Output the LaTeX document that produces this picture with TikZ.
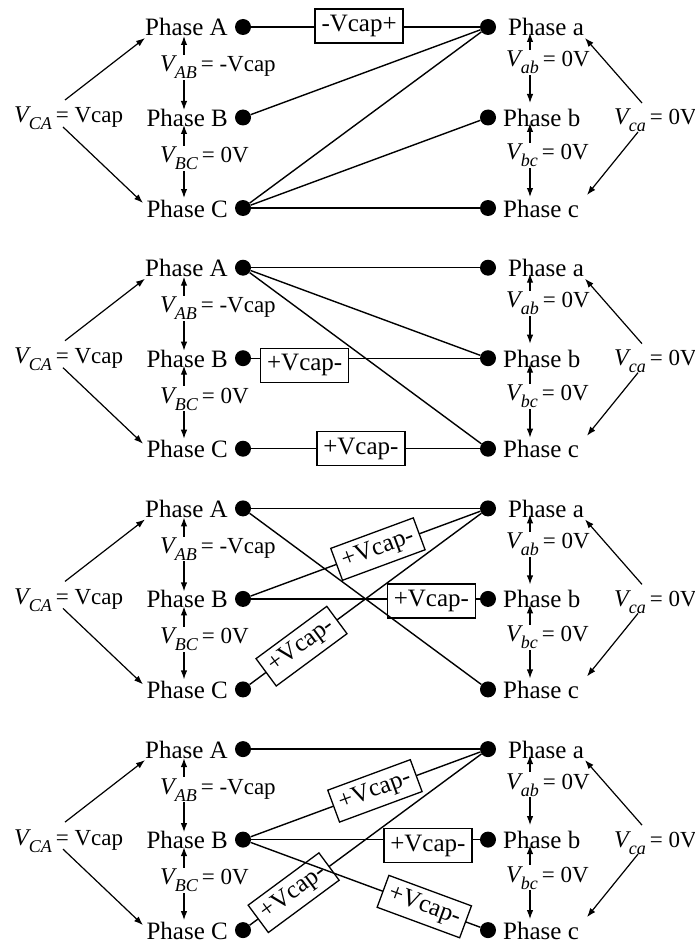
\documentclass[tikz,border=0pt]{standalone}
\usepackage{fontspec}
\setmainfont{Liberation Serif}
\usetikzlibrary{arrows.meta,calc}
\tikzset{
  dot/.style={circle,fill=black,inner sep=0pt,minimum size=16pt},
  lbl/.style={font=\fontsize{25}{28}\selectfont,inner sep=0pt},
  vlbl/.style={font=\fontsize{23}{26}\selectfont,inner sep=1pt,fill=white},
  capbox/.style={draw,line width=1.3pt,fill=white,font=\fontsize{25}{28}\selectfont,minimum width=88pt,minimum height=34pt,inner sep=0pt},
  wire/.style={line width=1.4pt},
  varr/.style={line width=1.2pt,{Latex[length=9pt,width=6.5pt]}-{Latex[length=9pt,width=6.5pt]}},
  sarr/.style={line width=1.2pt,-{Latex[length=9pt,width=6.5pt]}},
}
\newcommand\Vs[2]{{\fontsize{24}{26}\selectfont\itshape V}\raisebox{-7pt}{\fontsize{18}{20}\selectfont\itshape #1}\hspace{4pt}#2}
\newcommand\phasepanel[2]{%
  \node[dot] (A#1) at (243,#2) {};
  \node[dot] (B#1) at (243,{#2+90.5}) {};
  \node[dot] (C#1) at (243,{#2+181}) {};
  \node[dot] (a#1) at (488,#2) {};
  \node[dot] (b#1) at (488,{#2+90.5}) {};
  \node[dot] (c#1) at (488,{#2+181}) {};
  \node[lbl,anchor=base east] (tA#1) at (228,{#2+9}) {Phase A};
  \node[lbl,anchor=base east] (tB#1) at (228,{#2+99.5}) {Phase B};
  \node[lbl,anchor=base east] (tC#1) at (228,{#2+190}) {Phase C};
  \node[lbl,anchor=base west] (ta#1) at (508,{#2+9}) {Phase a};
  \node[lbl,anchor=base west] (tb#1) at (503,{#2+99.5}) {Phase b};
  \node[lbl,anchor=base west] (tc#1) at (503,{#2+190}) {Phase c};
  % left vertical arrows
  \coordinate (pAB#1) at (184,{#2+9});
  \coordinate (qAB#1) at (184,{#2+83});
  \coordinate (pBC#1) at (184,{#2+98});
  \coordinate (qBC#1) at (184,{#2+171});
  \draw[varr] (pAB#1) -- (qAB#1);
  \draw[varr] (pBC#1) -- (qBC#1);
  \node[vlbl,anchor=base west] (lAB#1) at (159,{#2+45}) {\Vs{AB}{= -Vcap}};
  \node[vlbl,anchor=base west] (lBC#1) at (159,{#2+135.5}) {\Vs{BC}{= 0V}};
  % right vertical arrows
  \coordinate (pab#1) at (530,{#2+6});
  \coordinate (qab#1) at (530,{#2+76});
  \coordinate (pbc#1) at (530,{#2+96});
  \coordinate (qbc#1) at (530,{#2+170});
  \draw[varr] (pab#1) -- (qab#1);
  \draw[varr] (pbc#1) -- (qbc#1);
  \node[vlbl,anchor=base west] (lab#1) at (505,{#2+40}) {\Vs{ab}{= 0V}};
  \node[vlbl,anchor=base west] (lbc#1) at (505,{#2+133}) {\Vs{bc}{= 0V}};
  % CA label and arrows
  \node[vlbl,anchor=base west] (lCA#1) at (13,{#2+96}) {\Vs{CA}{= Vcap}};
  \coordinate (sCA1#1) at (65,{#2+73});
  \coordinate (eCA1#1) at (145,{#2+11});
  \coordinate (sCA2#1) at (63,{#2+100});
  \coordinate (eCA2#1) at (143,{#2+176});
  \draw[sarr] (sCA1#1) -- (eCA1#1);
  \draw[sarr] (sCA2#1) -- (eCA2#1);
  \node[vlbl,anchor=base west] (lca#1) at (613,{#2+98}) {\Vs{ca}{= 0V}};
  \coordinate (sca1#1) at (642,{#2+76});
  \coordinate (eca1#1) at (585,{#2+11});
  \coordinate (sca2#1) at (638,{#2+105});
  \coordinate (eca2#1) at (587,{#2+168});
  \draw[sarr] (sca1#1) -- (eca1#1);
  \draw[sarr] (sca2#1) -- (eca2#1);
}
\begin{document}
\begin{tikzpicture}[x=1pt,y=-1pt]
\useasboundingbox (0,0) rectangle (695,944);
\phasepanel{1}{27}
\phasepanel{2}{267.7}
\phasepanel{3}{508.4}
\phasepanel{4}{749.1}
% panel 1
\draw[wire] (A1) -- node[capbox,pos=.472,yshift=1pt]{-Vcap+} (a1);
\draw[wire] (B1) -- (a1);
\draw[wire] (C1) -- (a1);
\draw[wire] (C1) -- (b1);
\draw[wire] (C1) -- (c1);
% panel 2
\draw[wire] (A2) -- (a2);
\draw[wire] (A2) -- (b2);
\draw[wire] (A2) -- (c2);
\draw[wire] (B2) -- node[capbox,pos=.234,yshift=-7pt]{+Vcap-} (b2);
\draw[wire] (C2) -- node[capbox,pos=.48]{+Vcap-} (c2);
% panel 3
\draw[wire] (A3) -- (a3);
\draw[wire] (B3) -- node[capbox,sloped,pos=.554]{+Vcap-} (a3);
\draw[wire] (B3) -- node[capbox,pos=.788,yshift=-2pt]{+Vcap-} (b3);
\draw[wire] (C3) -- node[capbox,sloped,pos=.224]{+Vcap-} (a3);
\draw[wire] (A3) -- (c3);
% panel 4
\draw[wire] (A4) -- (a4);
\draw[wire] (B4) -- node[capbox,sloped,pos=.541]{+Vcap-} (a4);
\draw[wire] (B4) -- node[capbox,pos=.773,yshift=-6pt]{+Vcap-} (b4);
\draw[wire] (C4) -- node[capbox,sloped,pos=.19]{+Vcap-} (a4);
\draw[wire] (B4) -- node[capbox,sloped,pos=.756]{+Vcap-} (c4);
\end{tikzpicture}
\end{document}
